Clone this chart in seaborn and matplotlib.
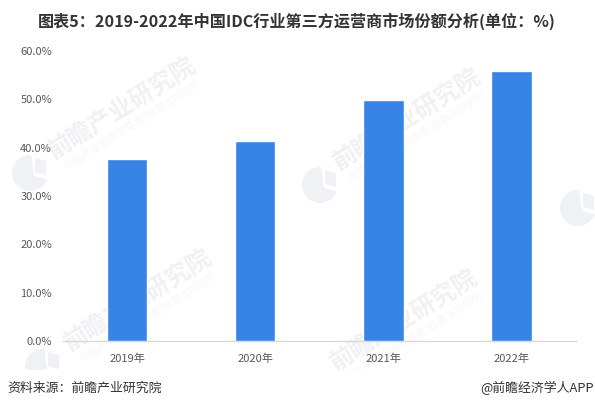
import matplotlib
matplotlib.use('Agg')
import matplotlib.pyplot as plt
from matplotlib.patches import Circle, Rectangle, Polygon
import seaborn as sns
import pandas as pd

years = ['2019年', '2020年', '2021年', '2022年']
shares = [37.7, 41.4, 49.9, 55.9]
yticks = [0, 10, 20, 30, 40, 50, 60]
title = '图表5：2019-2022年中国IDC行业第三方运营商市场份额分析(单位：%)'
source = '资料来源：前瞻产业研究院'
credit = '@前瞻经济学人APP'
watermark = '前瞻产业研究院'
watermark_sub = '中国产业咨询领导者(股票 839599)'
texts_at = [(122, 108), (138, 300), (407, 119), (404, 320)]
logos_at = [(30, 173), (43, 367), (320, 185), (578, 208)]

W, H = 595, 409
sns.set_theme(style='white')
plt.rcParams['font.family'] = ['Noto Sans CJK SC', 'DejaVu Sans']
fig = plt.figure(figsize=(5.95, 4.09), dpi=100)
left, right, top, bottom = 63, 575.5, 51, 341
ax = fig.add_axes([left/W, 1-bottom/H, (right-left)/W, (bottom-top)/H], zorder=3)
ax.patch.set_alpha(0)
df = pd.DataFrame({'year': years, 'share': shares})
sns.barplot(data=df, x='year', y='share', color='#3784E6', saturation=1, width=0.316, ax=ax, zorder=3)
ax.set_ylim(0, 60)
ax.set_xlim(-0.5, 3.5)
ax.set_yticks(yticks)
ax.set_yticklabels([f'{v:.1f}%' for v in yticks], fontsize=8, color='#595959')
ax.tick_params(axis='x', labelsize=8, labelcolor='#595959', length=0, pad=9)
ax.tick_params(axis='y', length=0, pad=8)
ax.set_xlabel('')
ax.set_ylabel('')
for s in ['top', 'right', 'left']:
    ax.spines[s].set_visible(False)
ax.spines['bottom'].set_color('#D9D9D9')
ax.spines['bottom'].set_linewidth(1)

# overlay in pixel coordinates for the watermark layer
bg = fig.add_axes([0, 0, 1, 1], zorder=1)
bg.set_xlim(0, W)
bg.set_ylim(H, 0)
bg.axis('off')
wm = '#EFF1F4'
for x, y in logos_at:
    bg.add_patch(Circle((x, y), 18, color=wm, lw=0, zorder=1))
    bg.add_patch(Polygon([(x+1, y-19), (x+4, y+3), (x+19, y+7), (x+19, y-19)], color='white', lw=0, zorder=2))
    bg.add_patch(Polygon([(x+5, y-15), (x+16, y-12), (x+16, y+2), (x+5, y-1)], color=wm, lw=0, zorder=3))
for x, y in texts_at:
    bg.text(x, y, watermark, fontsize=17.5, fontweight='bold', color=wm, rotation=32,
            rotation_mode='anchor', ha='center', va='center', zorder=4)
    bg.text(x+10, y+17, watermark_sub, fontsize=7.5, color='#F6F7F8', rotation=32,
            rotation_mode='anchor', ha='center', va='center', zorder=4)
bg.add_patch(Rectangle((0, 370), W, 39, color='white', lw=0, zorder=5))

fig.text(297/W, 1-21/H, title, fontsize=11.6, fontweight='bold', color='#333333', ha='center', va='center', zorder=4)
fig.text(7/W, 1-388/H, source, fontsize=9.3, color='#333333', ha='left', va='center', zorder=4)
fig.text(594/W, 1-388/H, credit, fontsize=9.3, color='#333333', ha='right', va='center', zorder=4)
fig.savefig('out.png', dpi=100)
